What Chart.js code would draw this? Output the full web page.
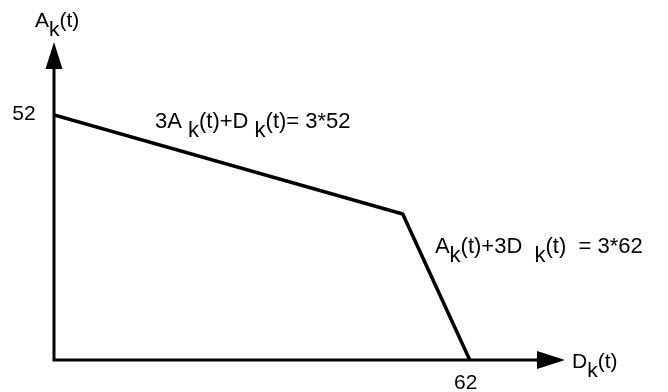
<!DOCTYPE html>
<html>
    <head>
        <title>Ak(t) vs Dk(t)</title>
        <style>
            body { margin: 0; background: #fff; }
        </style>
    </head>
    <body>
        <script src="https://cdn.jsdelivr.net/npm/chart.js"></script>
        <div style="width: 668px; height: 392px;">
            <canvas id="myChart"></canvas>
        </div>
        <script>
            // boundary of the region: D on x, A on y
            const boundaryD = [0, 52, 62];
            const boundaryA = [52, 31, 0];
            // where the arrow tips of the axes sit (data units)
            const axisEndD = 76.2;
            const axisEndA = 67.5;
            // value labels on the axes
            const tickA = ['52', 52];
            const tickD = ['62', 62];
            // equation labels: text parts, which parts are subscripts, anchor (D, A)
            const eq1Parts = ['3A', ' k', '(t)+D ', 'k', '(t)= 3*52'];
            const eq1Subs = [0, 1, 0, 1, 0];
            const eq1At = [15.05, 50.6];
            const eq2Parts = ['A', 'k', '(t)+3D ', ' k', '(t)  = 3*62'];
            const eq2Subs = [0, 1, 0, 1, 0];
            const eq2At = [56.8, 24.1];

            const FONT_EQ = '22px "Liberation Sans", Arial, sans-serif';
            const FONT_TICK = '21px "Liberation Sans", Arial, sans-serif';
            const SUB_DY = 9;

            function drawParts(c, parts, subs, x, y) {
                c.textAlign = 'left';
                c.textBaseline = 'middle';
                for (let i = 0; i < parts.length; i++) {
                    c.fillText(parts[i], x, y + (subs[i] ? SUB_DY : 0));
                    x += c.measureText(parts[i]).width;
                }
            }

            const decor = {
                id: 'decor',
                beforeDatasetsDraw(chart) {
                    const c = chart.ctx;
                    const xs = chart.scales.x, ys = chart.scales.y;
                    const x0 = xs.getPixelForValue(0), y0 = ys.getPixelForValue(0);
                    const xe = xs.getPixelForValue(axisEndD), ye = ys.getPixelForValue(axisEndA);
                    c.save();
                    c.strokeStyle = '#000';
                    c.fillStyle = '#000';
                    c.lineWidth = 3;
                    c.beginPath();
                    c.moveTo(x0, ye + 20);
                    c.lineTo(x0, y0);
                    c.lineTo(xe - 20, y0);
                    c.stroke();
                    // arrow heads
                    c.beginPath();
                    c.moveTo(x0, ye);
                    c.lineTo(x0 - 8.5, ye + 27);
                    c.lineTo(x0 + 8.5, ye + 27);
                    c.closePath();
                    c.fill();
                    c.beginPath();
                    c.moveTo(xe, y0);
                    c.lineTo(xe - 28, y0 - 9);
                    c.lineTo(xe - 28, y0 + 9);
                    c.closePath();
                    c.fill();
                    c.restore();
                },
                afterDatasetsDraw(chart) {
                    const c = chart.ctx;
                    const xs = chart.scales.x, ys = chart.scales.y;
                    const x0 = xs.getPixelForValue(0), y0 = ys.getPixelForValue(0);
                    const xe = xs.getPixelForValue(axisEndD), ye = ys.getPixelForValue(axisEndA);
                    c.save();
                    c.fillStyle = '#000';
                    c.font = FONT_TICK;
                    // axis titles
                    drawParts(c, ['A', 'k', '(t)'], [0, 1, 0], x0 - 19, ye - 21);
                    drawParts(c, ['D', 'k', '(t)'], [0, 1, 0], xe + 7, y0 + 2);
                    // value labels
                    c.textAlign = 'center';
                    c.textBaseline = 'middle';
                    c.fillText(tickA[0], x0 - 30, ys.getPixelForValue(tickA[1]) - 1);
                    c.fillText(tickD[0], xs.getPixelForValue(tickD[1]) - 4, y0 + 23);
                    // equations
                    c.font = FONT_EQ;
                    drawParts(c, eq1Parts, eq1Subs, xs.getPixelForValue(eq1At[0]), ys.getPixelForValue(eq1At[1]));
                    drawParts(c, eq2Parts, eq2Subs, xs.getPixelForValue(eq2At[0]), ys.getPixelForValue(eq2At[1]));
                    c.restore();
                }
            };

            const ctx = document.getElementById('myChart').getContext('2d');
            const myChart = new Chart(ctx, {
                type: 'scatter',
                data: {
                    datasets: [{
                        data: boundaryD.map((d, i) => ({x: d, y: boundaryA[i]})),
                        showLine: true,
                        borderColor: '#000',
                        borderWidth: 3.5,
                        pointRadius: 0,
                        tension: 0,
                        fill: false,
                    }]
                },
                options: {
                    responsive: true,
                    maintainAspectRatio: false,
                    animation: false,
                    layout: { padding: { left: 54, right: 103, top: 42, bottom: 32 } },
                    plugins: { legend: { display: false }, tooltip: { enabled: false } },
                    scales: {
                        x: { type: 'linear', min: 0, max: axisEndD, display: false },
                        y: { type: 'linear', min: 0, max: axisEndA, display: false }
                    }
                },
                plugins: [decor]
            });
        </script>
    </body>
</html>
